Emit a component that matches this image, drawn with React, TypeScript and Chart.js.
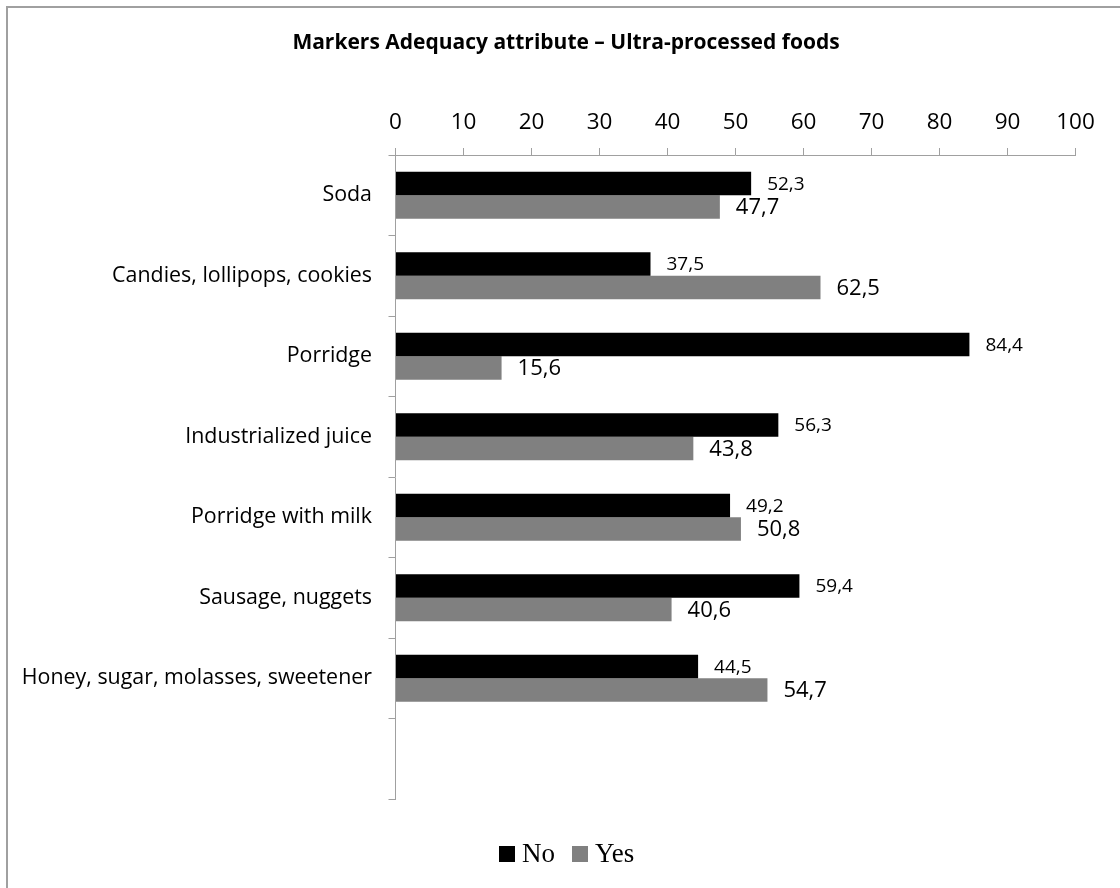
import React, { useEffect, useRef } from "react";
import { Chart, registerables } from "chart.js";

Chart.register(...registerables);

const categories = [
  "Soda",
  "Candies, lollipops, cookies",
  "Porridge",
  "Industrialized juice",
  "Porridge with milk",
  "Sausage, nuggets",
  "Honey, sugar, molasses, sweetener",
  "",
];
const noValues = [52.3, 37.5, 84.4, 56.3, 49.2, 59.4, 44.5];
const yesValues = [47.7, 62.5, 15.6, 43.8, 50.8, 40.6, 54.7];
const seriesNames = ["No", "Yes"];
const seriesColors = ["#000000", "#808080"];
const titleText = "Markers Adequacy attribute – Ultra-processed foods";

const FONT = "'Open Sans', 'Noto Sans', sans-serif";
const AXIS_COLOR = "#a0a0a0";

const valueLabels = {
  id: "valueLabels",
  afterDatasetsDraw(chart: any) {
    const ctx = chart.ctx;
    const sizes = [19, 22];
    chart.data.datasets.forEach((ds: any, di: number) => {
      const meta = chart.getDatasetMeta(di);
      ctx.save();
      ctx.font = `${sizes[di]}px ${FONT}`;
      ctx.fillStyle = "#000000";
      ctx.textAlign = "left";
      ctx.textBaseline = "middle";
      meta.data.forEach((el: any, i: number) => {
        const v = ds.data[i];
        if (v === undefined || v === null) return;
        const txt = Number(v).toFixed(1).replace(".", ",");
        ctx.fillText(txt, el.x + 16, el.y + 1);
      });
      ctx.restore();
    });
  },
};

const titleDraw = {
  id: "titleDraw",
  afterDraw(chart: any) {
    const ctx = chart.ctx;
    ctx.save();
    ctx.font = `bold 21px ${FONT}`;
    ctx.fillStyle = "#000000";
    ctx.textAlign = "center";
    ctx.textBaseline = "middle";
    ctx.fillText(titleText, 566, 43);
    ctx.restore();
  },
};

export default function App() {
  const ref = useRef<HTMLCanvasElement | null>(null);

  useEffect(() => {
    if (!ref.current) return;
    const chart = new Chart(ref.current, {
      type: "bar",
      data: {
        labels: categories,
        datasets: [
          {
            label: seriesNames[0],
            data: noValues,
            backgroundColor: seriesColors[0],
            categoryPercentage: 0.584,
            barPercentage: 1.0,
          },
          {
            label: seriesNames[1],
            data: yesValues,
            backgroundColor: seriesColors[1],
            categoryPercentage: 0.584,
            barPercentage: 1.0,
          },
        ],
      },
      options: {
        indexAxis: "y",
        responsive: false,
        animation: false,
        layout: { padding: { top: 54.4, left: 0, right: 44.5, bottom: 31 } },
        plugins: {
          legend: { display: false },
          tooltip: { enabled: false },
          title: { display: false },
        },
        scales: {
          x: {
            position: "top",
            min: 0,
            max: 100,
            ticks: {
              stepSize: 10,
              color: "#000000",
              font: { family: FONT, size: 22.5 },
              padding: 12,
            },
            grid: {
              drawOnChartArea: false,
              tickLength: 7,
              color: AXIS_COLOR,
            },
            border: { display: true, color: AXIS_COLOR, width: 1 },
            afterFit: (scale: any) => {
              scale.height = 100.6;
            },
          },
          y: {
            type: "category",
            offset: true,
            ticks: {
              color: "#000000",
              font: { family: FONT, size: 21.4 },
              padding: 16.5,
              autoSkip: false,
            },
            grid: {
              offset: true,
              drawOnChartArea: false,
              tickLength: 7,
              color: AXIS_COLOR,
            },
            border: { display: true, color: AXIS_COLOR, width: 1 },
            afterFit: (scale: any) => {
              scale.width = 395.5;
            },
          },
        },
      },
      plugins: [valueLabels, titleDraw],
    });
    return () => chart.destroy();
  }, []);

  return (
    <div>
      <div
        style={{
          position: "fixed",
          left: 6,
          top: 6,
          width: 1114,
          height: 882,
          borderTop: `2px solid ${AXIS_COLOR}`,
          borderLeft: `2px solid ${AXIS_COLOR}`,
          boxSizing: "border-box",
          background: "#ffffff",
        }}
      />
      <canvas
        ref={ref}
        width={1120}
        height={830}
        style={{ position: "absolute", left: 0, top: 0, width: 1120, height: 830 }}
      />
      <div
        style={{
          position: "absolute",
          left: 499,
          top: 840,
          fontFamily: "'Liberation Serif', 'Times New Roman', serif",
          fontSize: 27,
          lineHeight: "27px",
          color: "#000000",
          whiteSpace: "nowrap",
        }}
      >
        {seriesNames.map((name, i) => (
          <span key={name} style={{ marginRight: i === 0 ? 17 : 0 }}>
            <span
              style={{
                display: "inline-block",
                width: 16,
                height: 16,
                background: seriesColors[i],
                marginRight: 7,
              }}
            />
            {name}
          </span>
        ))}
      </div>
    </div>
  );
}
